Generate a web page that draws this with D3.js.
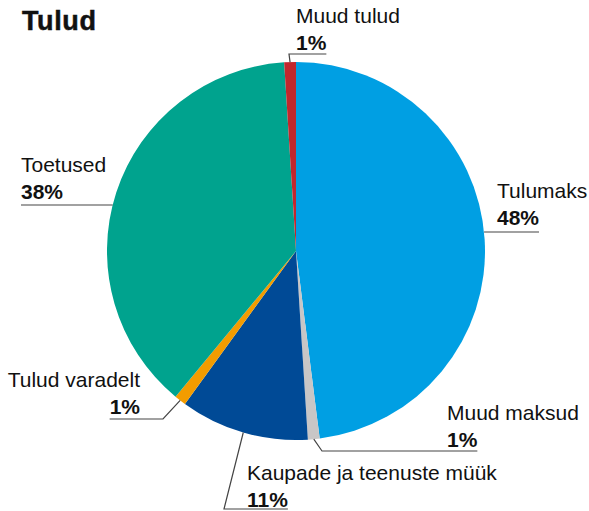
<!DOCTYPE html>
<meta charset="utf-8">
<style>
body {
  margin: 0;
  background: #fff;
}
svg text {
  font-family: "Liberation Sans", Arial, sans-serif;
  fill: #111;
}
.title {
  font-size: 27px;
  font-weight: bold;
  stroke: #111;
  stroke-width: 0.5px;
  letter-spacing: 0.6px;
}
.name {
  font-size: 21px;
}
.pct {
  font-size: 21px;
  font-weight: bold;
}
.leader {
  fill: none;
  stroke: #444;
  stroke-width: 1.2px;
}
</style>
<body>
<script src="https://d3js.org/d3.v7.min.js"></script>
<script>
var width = 589,
    height = 511;

// data
var categories = ["Tulumaks", "Muud maksud", "Kaupade ja teenuste müük", "Tulud varadelt", "Toetused", "Muud tulud"];
var values = [48, 1, 11, 1, 38, 1];
var colors = ["#009fe3", "#c8c6c6", "#004a96", "#f39c00", "#00a38e", "#c1272d"];

// label placement: text x, name baseline, anchor, leader type
var labelLayout = [
  {x: 497, y: 198, anchor: "start", kind: "flat", lineY: 232},
  {x: 447, y: 420, anchor: "start", kind: "elbow", elbow: [322, 451]},
  {x: 247, y: 480, anchor: "start", kind: "elbow", elbow: [224, 509]},
  {x: 140, y: 387, anchor: "end", kind: "elbow", elbow: [163, 419]},
  {x: 21, y: 172, anchor: "start", kind: "flat", lineY: 205},
  {x: 296, y: 23, anchor: "start", kind: "elbow", elbow: [289, 54]}
];

var cx = 296, cy = 251, radius = 189;

var svg = d3.select("body").append("svg")
    .attr("width", width)
    .attr("height", height);

svg.append("text")
    .attr("class", "title")
    .attr("x", 22)
    .attr("y", 30)
    .text("Tulud");

var pie = d3.pie().sort(null).value(function(d) { return d; });
var arc = d3.arc().innerRadius(0).outerRadius(radius);
var edgeArc = d3.arc().innerRadius(radius).outerRadius(radius);

var arcs = pie(values);

var g = svg.append("g").attr("transform", "translate(" + cx + "," + cy + ")");

g.selectAll("path")
  .data(arcs)
  .enter().append("path")
    .attr("d", arc)
    .attr("fill", function(d, i) { return colors[i]; });

var labels = svg.append("g");

arcs.forEach(function(a, i) {
  var L = labelLayout[i];
  labels.append("text")
      .attr("class", "name")
      .attr("x", L.x)
      .attr("y", L.y)
      .attr("text-anchor", L.anchor)
      .text(categories[i]);
  var pct = labels.append("text")
      .attr("class", "pct")
      .attr("x", L.x)
      .attr("y", L.y + 27)
      .attr("text-anchor", L.anchor)
      .text(values[i] + "%");
  var w = pct.node().getComputedTextLength();
  var farX = L.anchor === "start" ? L.x + w : L.x - w;

  var pts;
  if (L.kind === "flat") {
    var dy = L.lineY - cy;
    var dx = Math.sqrt(radius * radius - dy * dy);
    var edgeX = L.x > cx ? cx + dx : cx - dx;
    pts = [[edgeX, L.lineY], [farX, L.lineY]];
    if (L.x < cx) pts = [[L.x, L.lineY], [edgeX, L.lineY]];
  } else {
    var c = edgeArc.centroid(a);
    pts = [[cx + c[0], cy + c[1]], L.elbow, [farX, L.elbow[1]]];
  }
  labels.append("path")
      .attr("class", "leader")
      .attr("d", d3.line()(pts));
});
</script>
